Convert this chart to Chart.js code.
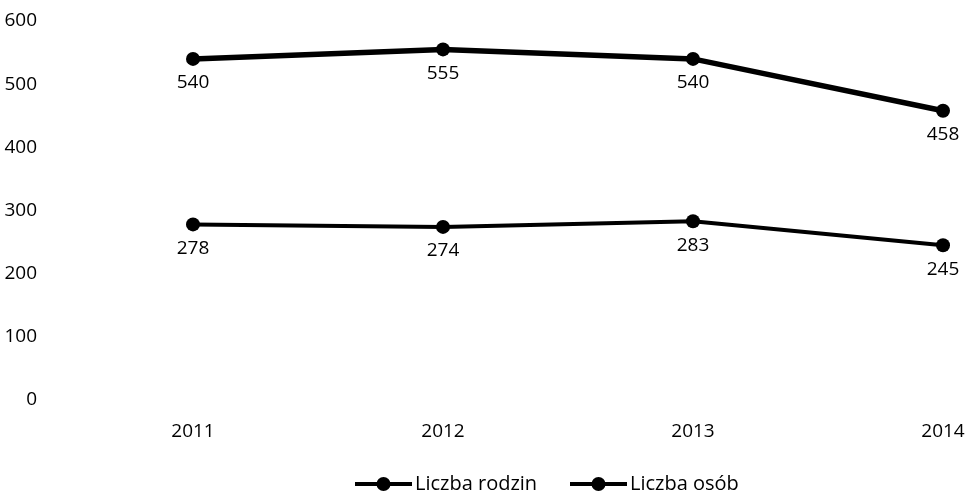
<!DOCTYPE html>
<html>
<head>
<meta charset="utf-8">
<script src="https://cdn.jsdelivr.net/npm/chart.js@4/dist/chart.umd.min.js"></script>
<style>
  html, body { margin: 0; padding: 0; background: #fff; }
  #wrap { width: 969px; height: 493px; }
</style>
</head>
<body>
<div id="wrap"><canvas id="chart" width="969" height="493"></canvas></div>
<script>
// data
const years = ["2011", "2012", "2013", "2014"];
const families = [278, 274, 283, 245];   // Liczba rodzin
const persons = [540, 555, 540, 458];    // Liczba osób
const yTicks = [0, 100, 200, 300, 400, 500, 600];

const FONT = "'Open Sans', sans-serif";
const INK = "#000";

// value labels under each point
const valueLabels = {
  id: "valueLabels",
  afterDatasetsDraw(chart) {
    const ctx = chart.ctx;
    ctx.save();
    ctx.font = "19px " + FONT;
    ctx.fillStyle = INK;
    ctx.textAlign = "center";
    ctx.textBaseline = "middle";
    chart.data.datasets.forEach((ds, i) => {
      chart.getDatasetMeta(i).data.forEach((pt, j) => {
        ctx.fillText(String(ds.data[j]), pt.x, pt.y + 24);
      });
    });
    ctx.restore();
  }
};

// legend sits off-centre at the very bottom, so draw it by hand
const legendX = [355, 570];
const bottomLegend = {
  id: "bottomLegend",
  afterDraw(chart) {
    const ctx = chart.ctx;
    const y = 484;
    ctx.save();
    ctx.font = "20px " + FONT;
    ctx.textAlign = "left";
    ctx.textBaseline = "middle";
    chart.data.datasets.forEach((ds, i) => {
      const x = legendX[i];
      ctx.strokeStyle = ds.borderColor;
      ctx.lineWidth = 4;
      ctx.beginPath(); ctx.moveTo(x, y); ctx.lineTo(x + 57, y); ctx.stroke();
      ctx.fillStyle = ds.backgroundColor;
      ctx.beginPath(); ctx.arc(x + 28.5, y, 7, 0, Math.PI * 2); ctx.fill();
      ctx.fillStyle = INK;
      ctx.fillText(ds.label, x + 60, y);
    });
    ctx.restore();
  }
};

new Chart(document.getElementById("chart"), {
  type: "line",
  data: {
    labels: years,
    datasets: [
      {
        label: "Liczba rodzin",
        data: families,
        borderColor: INK,
        backgroundColor: INK,
        borderWidth: 4,
        pointRadius: 7,
        pointBorderWidth: 0,
        tension: 0
      },
      {
        label: "Liczba osób",
        data: persons,
        borderColor: INK,
        backgroundColor: INK,
        borderWidth: 5.5,
        pointRadius: 7,
        pointBorderWidth: 0,
        tension: 0
      }
    ]
  },
  options: {
    responsive: false,
    animation: false,
    layout: { padding: { top: 21, right: 26, left: 0, bottom: 43 } },
    elements: { point: { pointStyle: "circle" } },
    scales: {
      x: {
        offset: false,
        grid: { display: false },
        border: { display: false },
        afterFit: axis => { axis.paddingLeft = 0; axis.paddingRight = 0; axis.height = 50; },
        ticks: { color: INK, font: { family: FONT, size: 19 }, padding: 12 }
      },
      y: {
        min: 0, max: 600,
        afterBuildTicks: axis => { axis.ticks = yTicks.map(v => ({ value: v })); },
        afterFit: axis => { axis.width = 193; axis.paddingTop = 0; axis.paddingBottom = 0; },
        grid: { display: false },
        border: { display: false },
        ticks: { color: INK, font: { family: FONT, size: 19 }, padding: 148 }
      }
    },
    plugins: {
      tooltip: { enabled: false },
      legend: { display: false }
    }
  },
  plugins: [valueLabels, bottomLegend]
});
</script>
</body>
</html>
